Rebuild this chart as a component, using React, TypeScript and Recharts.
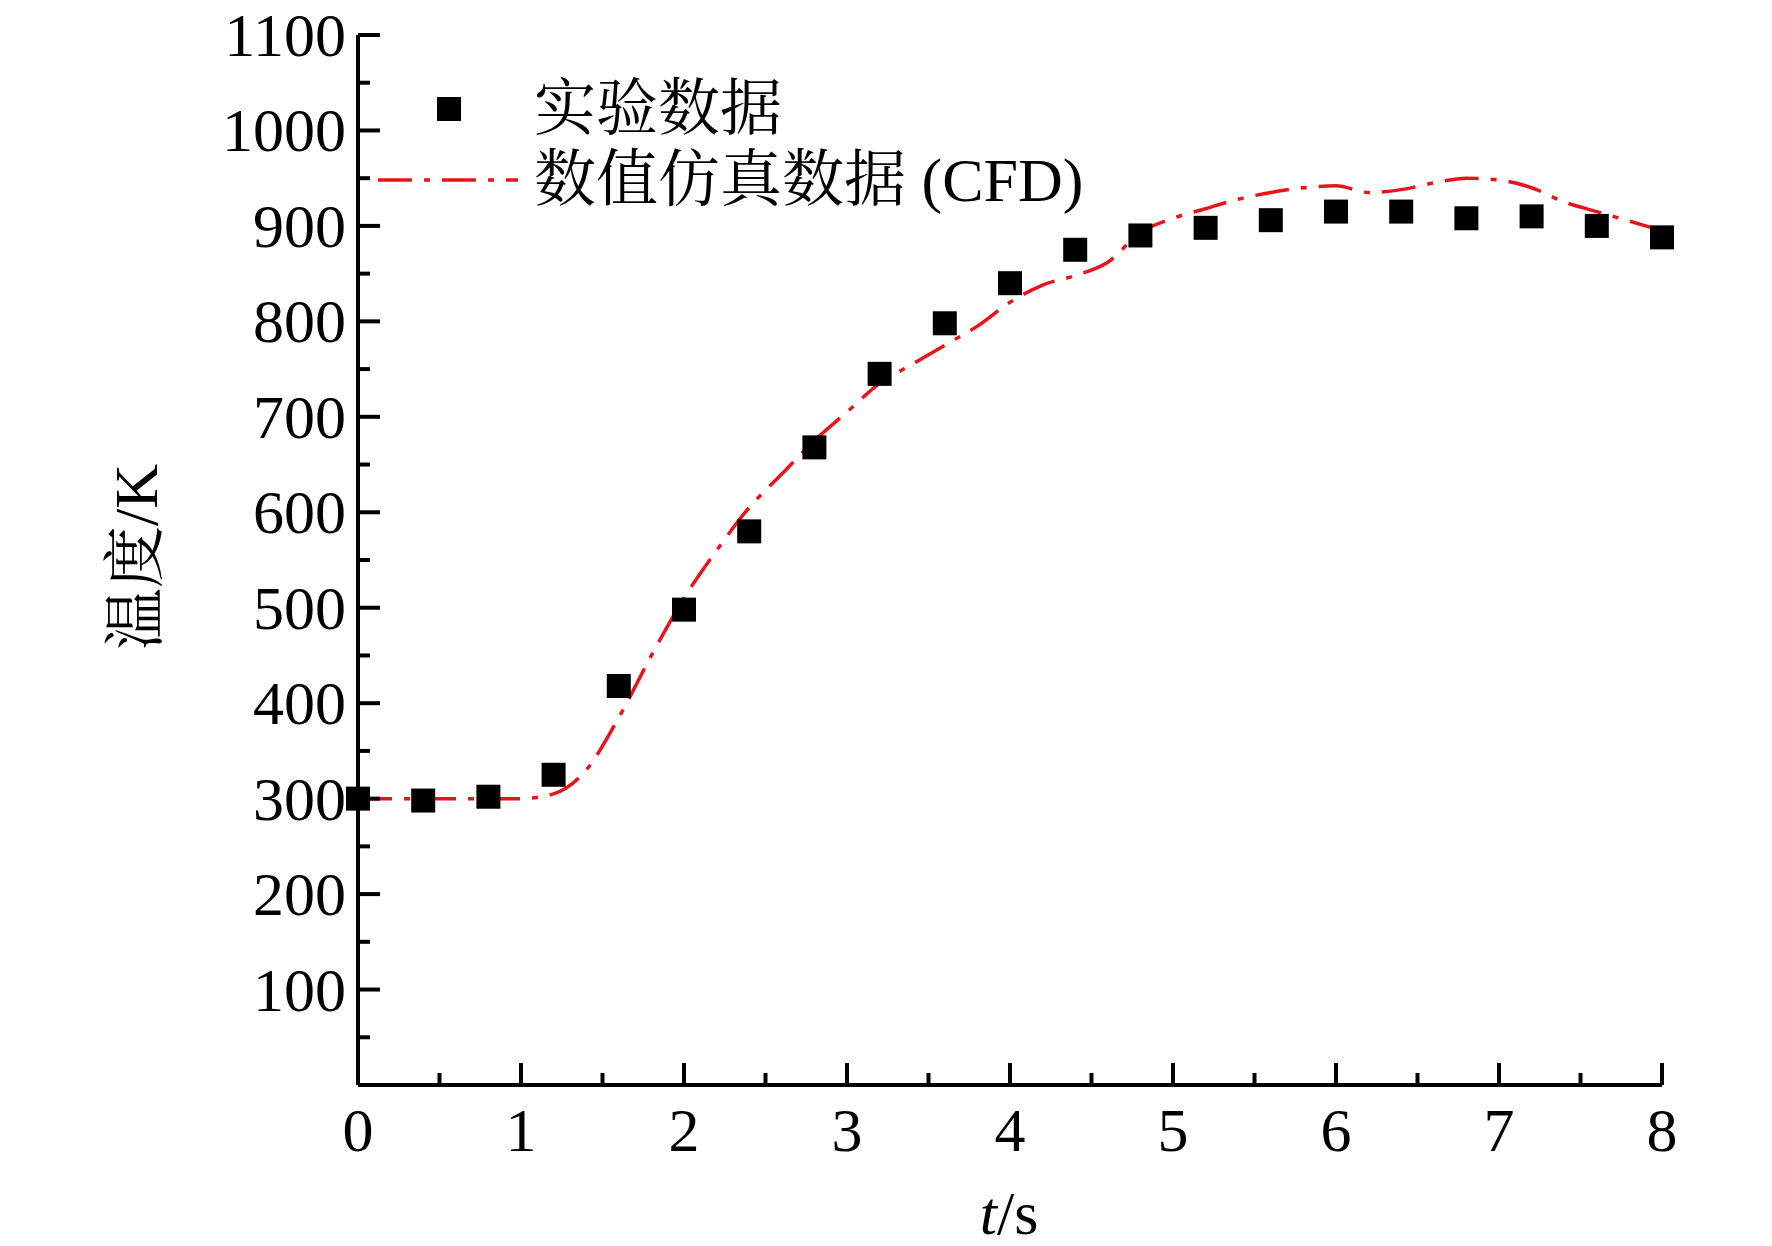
import React from 'react';
import { ComposedChart, Line, Scatter, XAxis, YAxis } from 'recharts';

const expT = [0, 0.4, 0.8, 1.2, 1.6, 2.0, 2.4, 2.8, 3.2, 3.6, 4.0, 4.4, 4.8, 5.2, 5.6, 6.0, 6.4, 6.8, 7.2, 7.6, 8.0];
const expTemp = [300, 298, 302, 325, 418, 498, 580, 668, 745, 798, 840, 875, 890, 898, 906, 915, 915, 908, 910, 900, 888];

const cfdT = [0, 0.5, 1.0, 1.2, 1.4, 1.6, 1.8, 2.0, 2.2, 2.4, 2.6, 2.8, 3.0, 3.2, 3.4, 3.6, 3.8, 4.0, 4.2, 4.4, 4.6, 4.8, 5.0, 5.2, 5.4, 5.6, 5.8, 6.0, 6.2, 6.4, 6.6, 6.8, 7.0, 7.2, 7.4, 7.6, 7.8, 8.0];
const cfdTemp = [300, 300, 300, 305, 330, 385, 450, 510, 560, 605, 640, 675, 705, 735, 755, 775, 795, 820, 838, 848, 862, 893, 908, 918, 928, 935, 940, 942, 935, 938, 945, 950, 948, 940, 925, 915, 905, 895];

const xTicks = [0, 0.5, 1, 1.5, 2, 2.5, 3, 3.5, 4, 4.5, 5, 5.5, 6, 6.5, 7, 7.5, 8];
const yTicks = Array.from({ length: 23 }, (_, i) => i * 50);

const expData = expT.map((t, i) => ({ t, v: expTemp[i] }));
const cfdData = cfdT.map((t, i) => ({ t, v: cfdTemp[i] }));

const serif = '"Liberation Serif", "Times New Roman", serif';
const cjk = '"Liberation Serif", "Noto Serif CJK SC", "Noto Sans CJK SC", serif';

const XTick = (p: any) => {
  const v = p.payload.value;
  const major = Number.isInteger(v);
  return (
    <g>
      <line x1={p.x} x2={p.x} y1={p.y} y2={p.y - (major ? 22 : 12)} stroke="#000" strokeWidth={4} />
      {major && (
        <text x={p.x} y={p.y + 66} textAnchor="middle" fontSize={62} fontFamily={serif} fill="#000">{v}</text>
      )}
    </g>
  );
};

const YTick = (p: any) => {
  const v = p.payload.value;
  const major = v % 100 === 0;
  return (
    <g>
      <line x1={p.x} x2={p.x + (major ? 22 : 12)} y1={p.y} y2={p.y} stroke="#000" strokeWidth={4} />
      {major && v !== 0 && (
        <text x={p.x - 12} y={p.y + 21} textAnchor="end" fontSize={62} fontFamily={serif} fill="#000">{v}</text>
      )}
    </g>
  );
};

const Square = (p: any) => <rect x={p.cx - 12} y={p.cy - 12} width={24} height={24} fill="#000" />;

export default function App() {
  return (
    <div style={{ position: 'relative', width: 1756, height: 1230, background: '#fff' }}>
      <ComposedChart width={1756} height={1230} margin={{ top: 27, right: 102, bottom: 0, left: 0 }} style={{ overflow: 'visible' }}>
        <XAxis dataKey="t" type="number" domain={[0, 8]} ticks={xTicks} tick={<XTick />} tickSize={0} tickMargin={0}
          axisLine={{ stroke: '#000', strokeWidth: 4 }} height={153} interval={0} />
        <XAxis xAxisId="top" orientation="top" type="number" domain={[0, 8]} tick={false} tickLine={false} height={0}
          axisLine={{ stroke: '#000', strokeWidth: 4 }} />
        <YAxis dataKey="v" type="number" domain={[0, 1100]} ticks={yTicks} tick={<YTick />} tickSize={0} tickMargin={0}
          axisLine={{ stroke: '#000', strokeWidth: 4 }} width={350} interval={0} />
        <YAxis yAxisId="right" orientation="right" type="number" domain={[0, 1100]} tick={false} tickLine={false} width={0}
          axisLine={{ stroke: '#000', strokeWidth: 4 }} />
        <Line data={cfdData} dataKey="v" type="monotone" stroke="#e8141c" strokeWidth={3.5}
          strokeDasharray="34 12 6 12" dot={false} isAnimationActive={false} />
        <Scatter data={expData} dataKey="v" shape={<Square />} isAnimationActive={false} />
      </ComposedChart>
      <div style={{ position: 'absolute', left: 449 - 8 - 12, top: 109 - 8 - 12, width: 24, height: 24, background: '#000' }} />
      <div style={{ position: 'absolute', left: 526, top: 109 - 8 - 38, fontSize: 62, fontFamily: cjk, lineHeight: '76px' }}>实验数据</div>
      <svg style={{ position: 'absolute', left: 370, top: 160, overflow: 'visible' }} width={150} height={20}>
        <line x1={0} x2={140} y1={12} y2={12} stroke="#e8141c" strokeWidth={3.5} strokeDasharray="34 12 6 12" />
      </svg>
      <div style={{ position: 'absolute', left: 526, top: 180 - 8 - 38, fontSize: 62, fontFamily: cjk, lineHeight: '76px' }}>数值仿真数据 (CFD)</div>
      <div style={{ position: 'absolute', left: 128 - 200, top: 549 - 38, width: 400, textAlign: 'center', transform: 'rotate(-90deg)',
        fontSize: 62, fontFamily: cjk, lineHeight: '76px' }}>温度/K</div>
      <div style={{ position: 'absolute', left: 1001 - 100, top: 1205 - 38, width: 200, textAlign: 'center', fontSize: 62,
        fontFamily: serif, lineHeight: '76px' }}><i>t</i>/s</div>
    </div>
  );
}
